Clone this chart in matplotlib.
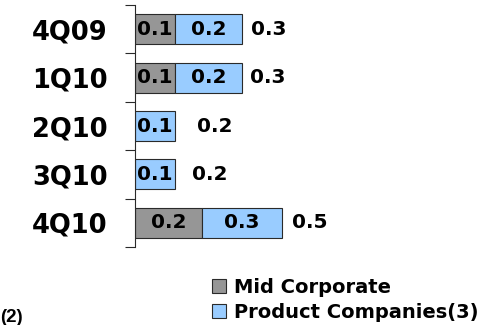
import matplotlib
matplotlib.use("Agg")
import matplotlib.pyplot as plt
from matplotlib.patches import Patch
from matplotlib.transforms import offset_copy
import numpy as np

plt.rcParams['font.family'] = ['DejaVu Sans']

# ---- data ----
categories = ["4Q09", "1Q10", "2Q10", "3Q10", "4Q10"]
mid_corporate = [0.12, 0.12, 0.0, 0.0, 0.20]
product_companies = [0.20, 0.20, 0.12, 0.12, 0.24]
mid_labels = ["0.1", "0.1", "", "", "0.2"]
product_labels = ["0.2", "0.2", "0.1", "0.1", "0.3"]
total_labels = ["0.3", "0.3", "0.2", "0.2", "0.5"]
series_names = ["Mid Corporate", "Product Companies(3)"]

# ---- style ----
gray = "#969696"
blue = "#99CCFF"
edge = "#2a2a2a"
total_pad_px = [9, 8, 22, 17, 10]

W, H = 493, 325
fig = plt.figure(figsize=(W / 100, H / 100), dpi=100)
ax = fig.add_axes([135 / W, 1 - 247 / H, 333 / W, 242 / H])

y = np.arange(len(categories))
mid = np.array(mid_corporate)
prod = np.array(product_companies)
bh = 0.62
ax.barh(y, mid, height=bh, color=gray, edgecolor=edge, linewidth=0.8)
ax.barh(y, prod, left=mid, height=bh, color=blue, edgecolor=edge, linewidth=0.8)

vfs = 14.5
for i in range(len(categories)):
    if mid_labels[i]:
        ax.text(mid[i] / 2, y[i], mid_labels[i], ha="center", va="center",
                fontsize=vfs, fontweight="bold")
    if product_labels[i]:
        ax.text(mid[i] + prod[i] / 2, y[i], product_labels[i], ha="center", va="center",
                fontsize=vfs, fontweight="bold")
    tr = offset_copy(ax.transData, fig=fig, x=total_pad_px[i], y=0, units="dots")
    ax.text(mid[i] + prod[i], y[i], total_labels[i], ha="left", va="center",
            fontsize=vfs, fontweight="bold", transform=tr)

ax.set_xlim(0, 1)
ax.set_ylim(len(categories) - 0.5, -0.5)
ax.set_yticks(y)
ax.set_yticklabels(categories, fontsize=18.5, fontweight="bold")
ax.tick_params(axis="y", which="major", length=0, pad=19.5)
ax.set_yticks(np.arange(len(categories) + 1) - 0.5, minor=True)
ax.tick_params(axis="y", which="minor", length=7.2, width=0.8, color=edge, direction="out")
ax.set_xticks([])
for s in ["top", "right", "bottom"]:
    ax.spines[s].set_visible(False)
ax.spines["left"].set_color(edge)
ax.spines["left"].set_linewidth(0.8)

handles = [Patch(facecolor=gray, edgecolor=edge, linewidth=0.8),
           Patch(facecolor=blue, edgecolor=edge, linewidth=0.8)]
leg = fig.legend(handles, series_names, loc="upper left",
                 bbox_to_anchor=(212 / W, 1 - 278 / H), frameon=False,
                 prop={"size": 14, "weight": "bold"}, borderpad=0, borderaxespad=0,
                 handlelength=0.72, handleheight=0.72, handletextpad=0.42,
                 labelspacing=0.32)

fig.text(0 / W, 1 - 322 / H, "(2)", ha="left", va="baseline",
         fontsize=13.5, fontweight="bold", family=["Liberation Sans", "DejaVu Sans"])

fig.savefig("out.png", dpi=100)
